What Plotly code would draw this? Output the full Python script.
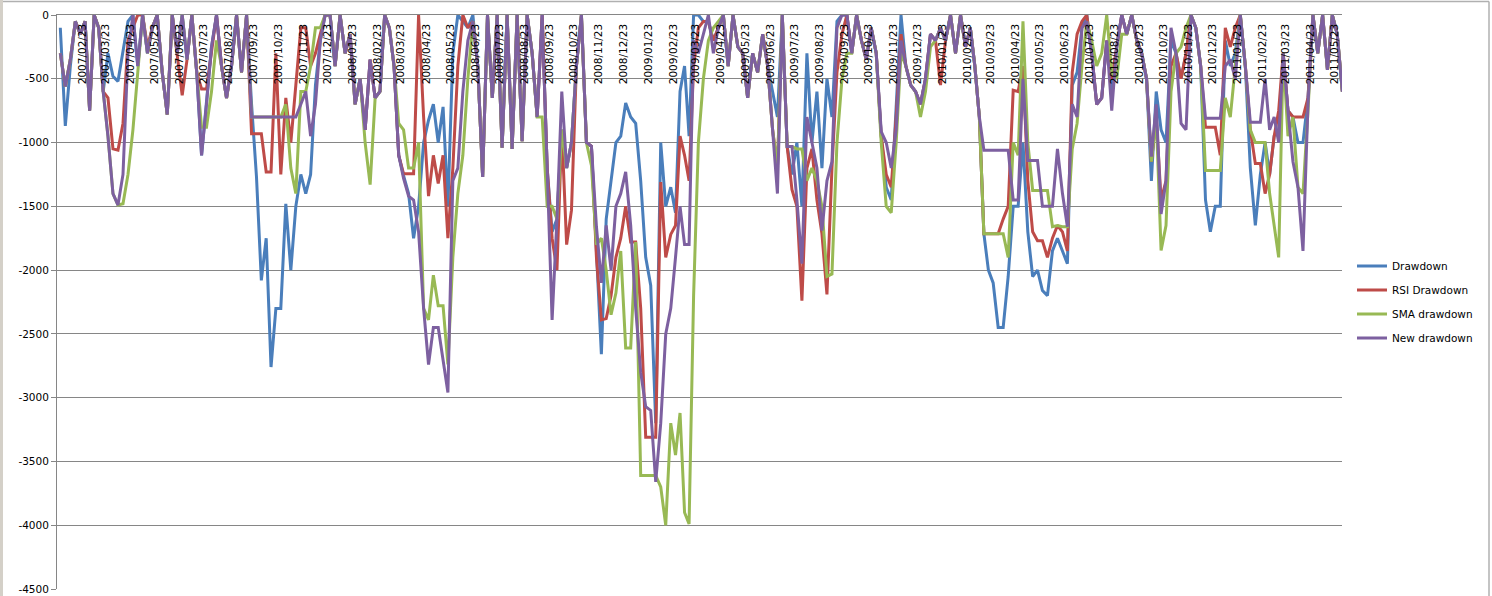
import pandas as pd
import plotly.graph_objects as go

# ---------------- data (5 readings per month, month m starts on the 23rd) ----------------
first_month = "2007-01-23"
series_names = ["Drawdown", "RSI Drawdown", "SMA drawdown", "New drawdown"]
series_colors = ["#4A7EBB", "#BE4B48", "#98B954", "#7D60A0"]

drawdown = [
    -100, -870, -400, -50, -150,
    -50, -750, 0, -100, -600,
    -300, -480, -520, -300, -50,
    0, -400, 0, -300, -100,
    0, -450, -780, 0, -300,
    0, -350, 0, -450, -1100,
    -700, -250, 0, -400, -650,
    -400, 0, -450, 0, -700,
    -1270, -2080, -1750, -2760, -2300,
    -2300, -1480, -2000, -1500, -1250,
    -1400, -1250, -550, -200, 0,
    0, -400, 0, -300, -150,
    -700, -500, -900, -350, -650,
    -600, 0, -100, -400, -1100,
    -1260, -1400, -1750, -1500, -1000,
    -825, -700, -1000, -720, -1500,
    -300, 0, -50, -100, 0,
    -400, -1270, 0, -650, 0,
    -1040, 0, -1050, 0, -990,
    0, -300, -800, 0, -1200,
    -1700, -1600, -900, -1200, -1000,
    -400, 0, -1000, -1030, -1800,
    -2660, -1600, -1300, -1000, -950,
    -690, -800, -850, -1300, -1900,
    -2120, -3200, -1000, -1500, -1350,
    -1550, -600, -400, -950, 0,
    0, -50, -50, -200, -100,
    0, -400, 0, -250, -300,
    -650, -300, -450, -150, -400,
    -600, -800, 0, -1030, -1250,
    -1000, -1500, -300, -1000, -600,
    -1200, -500, -800, -50, 0,
    0, -300, 0, -200, -350,
    -100, -300, -950, -1350, -1450,
    -700, 0, -400, -550, -600,
    -700, -500, -150, -200, -100,
    -200, 0, -300, 0, -250,
    -100, -400, -800, -1715, -2000,
    -2100, -2450, -2450, -2050, -1500,
    -1500, -1000, -1700, -2050, -2000,
    -2160, -2200, -1850, -1750, -1850,
    -1950, -550, -450, -100, 0,
    -300, -700, -650, -200, -600,
    -250, 0, -150, 0, -200,
    -300, -500, -1300, -600, -900,
    -1000, -200, -300, -500, -300,
    0, -100, -400, -1450, -1700,
    -1500, -1500, -200, -400, -300,
    0, -400, -1200, -1650, -1250,
    -1000, -1250, -950, -900, -300,
    -750, -800, -1000, -1000, -650,
    0, -300, 0, -430, 0,
    -150, -590, -590, -590, -590,
]

rsi_drawdown = [
    -300, -560, -350, -50, -150,
    -50, -750, 0, -100, -600,
    -650, -1050, -1060, -850, -200,
    -100, 0, 0, -250, -100,
    0, -450, -780, 0, -300,
    -630, -350, 0, -450, -580,
    -580, -300, 0, -400, -650,
    -400, 0, -450, 0, -930,
    -930, -930, -1230, -1230, -300,
    -1250, -650, -1000, -550, -100,
    -100, -400, -300, -150, 0,
    0, -400, 0, -300, -150,
    -700, -500, -900, -350, -650,
    -600, 0, -100, -400, -1100,
    -1245, -1245, -1245, 0, -800,
    -1420, -1100, -1320, -1100, -1750,
    -1200, -400, 0, -100, -50,
    -400, -1270, 0, -650, 0,
    -1040, 0, -1050, 0, -990,
    0, -300, -800, 0, -1200,
    -1750, -2000, -900, -1800, -1530,
    -400, 0, -1000, -1030, -1900,
    -2390, -2380, -2200, -1900, -1750,
    -1500, -1780, -1780, -2300, -3310,
    -3310, -3310, -1310, -1900, -1720,
    -1650, -950, -1100, -1300, -400,
    -100, -50, -50, -200, -100,
    0, -400, 0, -250, -300,
    -650, -300, -450, -150, -400,
    -900, -1200, 0, -1030, -1370,
    -1500, -2240, -1200, -1050, -1450,
    -1715, -2190, -1200, -450, -150,
    0, -300, 0, -200, -350,
    -100, -300, -950, -1250, -1350,
    -800, -150, -400, -550, -600,
    -700, -500, -150, -200, -550,
    -200, 0, -300, 0, -250,
    -100, -400, -800, -1715, -1715,
    -1715, -1715, -1600, -1500, -590,
    -600, -400, -1300, -1700, -1770,
    -1770, -1900, -1750, -1650, -1700,
    -1850, -450, -150, -50, 0,
    -300, -700, -650, -200, -500,
    -250, 0, -150, 0, -200,
    -300, -500, -1150, -800, -1450,
    -1300, -400, -300, -500, -300,
    0, -100, -400, -880, -880,
    -880, -1100, -100, -250, -100,
    0, -400, -900, -1165, -1165,
    -1400, -1250, -950, -750, -300,
    -750, -800, -800, -800, -650,
    0, -300, 0, -430, 0,
    -150, -590, -590, -590, -590,
]

sma_drawdown = [
    -300, -560, -350, -50, -150,
    -50, -750, 0, -100, -600,
    -950, -1400, -1490, -1480, -1250,
    -900, -450, 0, -300, -100,
    0, -450, -780, 0, -300,
    0, -350, 0, -450, -880,
    -880, -600, -200, -400, -650,
    -400, 0, -450, 0, -800,
    -800, -800, -800, -800, -800,
    -800, -700, -1200, -1400, -600,
    -600, -400, -100, -100, 0,
    0, -400, 0, -300, -150,
    -700, -500, -1000, -1330, -650,
    -600, 0, -100, -400, -850,
    -900, -1200, -1200, -1000, -2300,
    -2390, -2040, -2280, -2280, -2740,
    -1900, -1400, -1100, -500, -50,
    -400, -1270, 0, -650, 0,
    -1040, 0, -1050, 0, -990,
    0, -300, -800, -800, -1500,
    -1500, -1600, -900, -1200, -1000,
    -400, 0, -1000, -1180, -1800,
    -1750, -2000, -2350, -2180, -1850,
    -2610, -2610, -1780, -3610, -3610,
    -3610, -3610, -3700, -4000, -3200,
    -3450, -3120, -3900, -3990, -2200,
    -1000, -500, -200, -100, -50,
    0, -400, 0, -250, -300,
    -650, -300, -450, -150, -400,
    -900, -1200, 0, -1030, -1030,
    -1050, -1050, -1300, -1200, -1300,
    -1500, -2050, -2030, -1000, -500,
    -300, -300, 0, -200, -350,
    -100, -300, -1000, -1500, -1550,
    -1000, -300, -400, -550, -600,
    -800, -600, -250, -200, -100,
    -200, 0, -300, 0, -250,
    -100, -400, -800, -1715, -1715,
    -1715, -1715, -1715, -1900, -1000,
    -1100, -50, -1000, -1375, -1375,
    -1375, -1375, -1660, -1650, -1660,
    -1660, -1050, -850, -400, -50,
    -200, -400, -300, 0, -450,
    -500, -150, -150, 0, -200,
    -300, -500, -1150, -800, -1845,
    -1650, -600, -300, -250, -100,
    0, -100, -400, -1220, -1220,
    -1220, -1220, -650, -800, -400,
    0, -400, -900, -1000, -1000,
    -1000, -1400, -1650, -1900, -300,
    -950, -800, -1350, -1400, -750,
    0, -300, 0, -430, 0,
    -150, -590, -590, -590, -590,
]

new_drawdown = [
    -300, -560, -350, -50, -150,
    -50, -750, 0, -100, -600,
    -950, -1400, -1490, -1250, -300,
    0, -400, 0, -300, -100,
    0, -450, -780, 0, -300,
    0, -350, 0, -450, -1100,
    -700, -250, 0, -400, -650,
    -400, 0, -450, 0, -800,
    -800, -800, -800, -800, -800,
    -800, -800, -800, -800, -700,
    -600, -950, -700, -200, 0,
    0, -400, 0, -300, -150,
    -700, -500, -900, -350, -650,
    -600, 0, -100, -400, -1100,
    -1280, -1420, -1450, -1700, -2300,
    -2740, -2450, -2450, -2700, -2960,
    -1300, -1200, -600, -200, -50,
    -400, -1270, 0, -650, 0,
    -1040, 0, -1050, 0, -990,
    0, -300, -800, 0, -1200,
    -2390, -1600, -600, -1200, -1000,
    -400, 0, -1000, -1030, -1660,
    -2100, -1650, -2000, -1500, -1400,
    -1230, -1650, -2300, -2800, -3070,
    -3100, -3660, -3200, -2500, -2300,
    -1900, -1500, -1800, -1800, -200,
    -300, -150, 0, -300, -100,
    0, -400, 0, -250, -300,
    -650, -300, -450, -150, -400,
    -900, -1400, 0, -1030, -1030,
    -1450, -1950, -800, -1000, -1200,
    -1690, -1300, -1150, -100, 0,
    0, -300, 0, -200, -350,
    -100, -300, -915, -1000, -1200,
    -900, -200, -400, -550, -600,
    -700, -500, -150, -200, -100,
    -200, 0, -300, 0, -250,
    -100, -400, -800, -1060, -1060,
    -1060, -1060, -1060, -1060, -1450,
    -1450, -500, -1140, -1140, -1140,
    -1500, -1500, -1500, -1050, -1400,
    -1660, -700, -800, -100, -50,
    -300, -700, -650, -200, -750,
    -250, 0, -150, 0, -200,
    -300, -500, -1110, -700, -1560,
    -1300, -100, -300, -850, -900,
    0, -100, -400, -810, -810,
    -810, -810, -400, -350, -500,
    0, -400, -840, -840, -840,
    -500, -900, -800, -1000, -300,
    -750, -1150, -1350, -1850, -700,
    0, -300, 0, -430, 0,
    -150, -590, -590, -590, -590,
]

y_tick_values = [0, -500, -1000, -1500, -2000, -2500, -3000, -3500, -4000, -4500]
y_tick_labels = ["0", "-500", "-1000", "-1500", "-2000", "-2500", "-3000", "-3500", "-4000", "-4500"]
x_range = ["2007-01-22", "2011-06-01"]

# ---------------- build dates ----------------
PER_MONTH = 5
start = pd.Timestamp(first_month)


def make_dates(n):
    out = []
    for i in range(n):
        m, j = divmod(i, PER_MONTH)
        s = start + pd.DateOffset(months=m)
        e = start + pd.DateOffset(months=m + 1)
        out.append(s + (e - s) * ((j + 0.5) / PER_MONTH))
    return out


all_series = [drawdown, rsi_drawdown, sma_drawdown, new_drawdown]

FONT = "DejaVu Sans"
W, H = 1492, 596
ML, MR, MT, MB = 57, 150, 15, 7
PW, PH = W - ML - MR, H - MT - MB

fig = go.Figure()
for name, color, vals in zip(series_names, series_colors, all_series):
    fig.add_trace(go.Scatter(
        x=make_dates(len(vals)), y=vals, mode="lines", name=name,
        legendgroup=name,
        line=dict(color=color, width=3, shape="linear"),
    ))

# empty trace on the overlay axes that only carry the date labels
fig.add_trace(go.Scatter(x=[], y=[], xaxis="x2", yaxis="y2",
                         showlegend=False, hoverinfo="skip"))

grid = "#868686"
fig.update_layout(
    width=W, height=H,
    margin=dict(l=ML, r=MR, t=MT, b=MB, pad=0, autoexpand=False),
    paper_bgcolor="white", plot_bgcolor="white",
    font=dict(family=FONT, size=10.5, color="black"),
    showlegend=True,
    legend=dict(
        x=(1352 - ML) / PW, xanchor="left", y=0.5, yanchor="middle",
        font=dict(family=FONT, size=10.5, color="black"),
        itemwidth=30, tracegroupgap=5, bgcolor="rgba(0,0,0,0)",
    ),
    xaxis=dict(
        type="date", range=x_range, side="top", automargin=False,
        showticklabels=False, showgrid=False,
        showline=True, linecolor=grid, linewidth=1,
        ticks="", zeroline=False,
    ),
    xaxis2=dict(
        type="date", overlaying="x", matches="x", anchor="y2", side="top",
        automargin=False,
        tick0=first_month, dtick="M1", tickformat="%Y/%m/%d",
        tickangle=-90, ticklabelposition="inside",
        showgrid=False, showline=False, ticks="", zeroline=False,
        tickfont=dict(family=FONT, size=10.5, color="black"),
    ),
    yaxis=dict(
        range=[-4500, 0], tickvals=y_tick_values, ticktext=y_tick_labels,
        automargin=False,
        showgrid=True, gridcolor=grid, gridwidth=1,
        showline=True, linecolor=grid, linewidth=1,
        ticks="outside", ticklen=5, tickcolor=grid,
        tickfont=dict(family=FONT, size=10.5, color="black"),
        zeroline=False,
    ),
    yaxis2=dict(
        overlaying="y", matches="y", range=[-4500, 0], automargin=False,
        showticklabels=False, showgrid=False, showline=False,
        ticks="", zeroline=False,
    ),
    shapes=[
        dict(type="rect", xref="paper", yref="paper",
             x0=-ML / PW, x1=(3 - ML) / PW, y0=-MB / PH, y1=1 + MT / PH,
             fillcolor="#d4d0c8", line=dict(width=0), layer="below"),
        dict(type="line", xref="paper", yref="paper",
             x0=(3 - ML) / PW, x1=(W - 3 - ML) / PW,
             y0=1 + (MT - 1.5) / PH, y1=1 + (MT - 1.5) / PH,
             line=dict(color="#b0b0b0", width=1.5)),
        dict(type="line", xref="paper", yref="paper",
             x0=(W - 3 - ML) / PW, x1=(W - 3 - ML) / PW,
             y0=-MB / PH, y1=1 + (MT - 1.5) / PH,
             line=dict(color="#b0b0b0", width=1.5)),
    ],
)

fig.write_html(
    "out.html",
    config={"displayModeBar": False},
    post_script="document.body.style.margin='0px';document.body.style.overflow='hidden';",
)
